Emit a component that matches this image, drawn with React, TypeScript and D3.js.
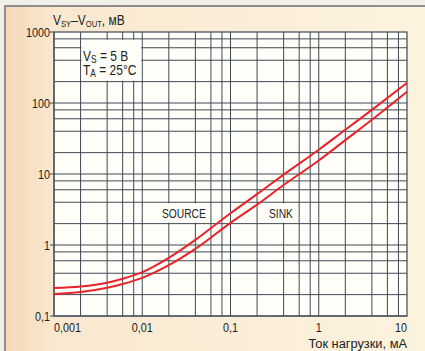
import { useEffect } from 'react'
import type { ReactNode } from 'react'
import * as d3 from 'd3'

// load current, mA
const loadCurrent = [0.001, 0.002, 0.004, 0.006, 0.01, 0.02, 0.04, 0.1, 0.2, 0.4, 1, 2, 4, 10]
// V_SY - V_OUT, mV
const sourceValues = [0.248, 0.26, 0.294, 0.335, 0.415, 0.66, 1.18, 2.8, 5.2, 9.8, 22, 42, 80, 192]
const sinkValues = [0.204, 0.217, 0.25, 0.283, 0.345, 0.52, 0.88, 2.05, 3.7, 7.0, 15.5, 30, 58, 144]

const xTickValues = [0.001, 0.01, 0.1, 1, 10]
const xTickLabels = ['0,001', '0,01', '0,1', '1', '10']
const yTickValues = [0.1, 1, 10, 100, 1000]
const yTickLabels = ['0,1', '1', '10', '100', '1000']
const gridMultipliers = [1, 2, 4, 6, 8]

const W = 425
const H = 351
const margin = { top: 32, right: 18, bottom: 35, left: 54 }
const FONT = '"Liberation Sans", Arial, sans-serif'
const GRID = '#3f4a55'
const INK = '#222'

// condensed text: the original uses a narrow grotesque
function NText({
  x,
  y,
  sx = 0.8,
  size = 13,
  anchor = 'start',
  children,
}: {
  x: number
  y: number
  sx?: number
  size?: number
  anchor?: 'start' | 'middle' | 'end'
  children: ReactNode
}) {
  return (
    <g transform={`translate(${x},${y}) scale(${sx},1)`}>
      <text x={0} y={0} textAnchor={anchor} fontSize={size} fill={INK}>
        {children}
      </text>
    </g>
  )
}

export default function App() {
  useEffect(() => {
    document.body.style.margin = '0'
  }, [])

  const x = d3.scaleLog().domain([0.001, 10]).range([margin.left, W - margin.right])
  const y = d3.scaleLog().domain([0.1, 1000]).range([H - margin.bottom, margin.top])

  const gridX: number[] = []
  for (let d = 0.001; d < 10; d *= 10) gridMultipliers.forEach(m => gridX.push(+(d * m).toPrecision(3)))
  const gridY: number[] = []
  for (let d = 0.1; d < 1000; d *= 10) gridMultipliers.forEach(m => gridY.push(+(d * m).toPrecision(3)))

  const line = d3
    .line<number>()
    .x((_, i) => x(loadCurrent[i]))
    .y(d => y(d))
    .curve(d3.curveMonotoneX)

  const [x0, x1] = x.range()
  const [y1, y0] = y.range()

  return (
    <svg width={W} height={H} style={{ display: 'block' }} fontFamily={FONT}>
      <defs>
        <linearGradient id="bg" x1="0" x2="1" y1="0" y2="0">
          <stop offset="0" stopColor="#f6d8b8" />
          <stop offset="0.12" stopColor="#f9e8d0" />
          <stop offset="1" stopColor="#fcf3df" />
        </linearGradient>
      </defs>
      <rect width={W} height={H} fill="#f1efea" />
      <rect x={5} y={6} width={W} height={H} fill="url(#bg)" stroke="#8d8d8d" strokeWidth={2} />

      {/* plot background */}
      <rect x={x0} y={y0} width={x1 - x0} height={y1 - y0} fill="#fffef8" />

      {/* grid */}
      {gridX.map(v => (
        <line key={'gx' + v} x1={x(v)} x2={x(v)} y1={y0} y2={y1} stroke={GRID} strokeWidth={1} />
      ))}
      {gridY.map(v => (
        <line key={'gy' + v} x1={x0} x2={x1} y1={y(v)} y2={y(v)} stroke={GRID} strokeWidth={1} />
      ))}
      <rect x={x0} y={y0} width={x1 - x0} height={y1 - y0} fill="none" stroke={GRID} strokeWidth={1.2} />

      {/* label boxes */}
      <rect x={x(0.002) + 1} y={y(800) + 1} width={x(0.01) - x(0.002) - 2} height={y(200) - y(800) - 2} fill="#fffef8" />
      <rect x={157} y={y(4) + 1} width={51} height={y(2) - y(4) - 2} fill="#fffef8" />
      <rect x={264} y={y(4) + 1} width={33} height={y(2) - y(4) - 2} fill="#fffef8" />

      {/* curves */}
      <path d={line(sourceValues) ?? ''} fill="none" stroke="#e8232b" strokeWidth={2} />
      <path d={line(sinkValues) ?? ''} fill="none" stroke="#e8232b" strokeWidth={2} />

      {/* y axis */}
      {yTickValues.map((v, i) => (
        <g key={'yt' + v}>
          <line x1={x0 - 4} x2={x0} y1={y(v)} y2={y(v)} stroke={GRID} />
          <NText x={x0 - 4} y={y(v) + 4.5} anchor="end" sx={0.83} size={13}>
            {yTickLabels[i]}
          </NText>
        </g>
      ))}
      {/* x axis */}
      {xTickValues.map((v, i) => (
        <NText
          key={'xt' + v}
          x={x(v)}
          y={y1 + 16}
          sx={0.83}
          size={13}
          anchor={i === 0 ? 'start' : i === xTickValues.length - 1 ? 'end' : 'middle'}
        >
          {xTickLabels[i]}
        </NText>
      ))}

      {/* titles */}
      <NText x={x0 - 1} y={25} sx={0.85} size={14}>
        V<tspan fontSize={9} dy={2}>SY</tspan>
        <tspan dy={-2}>–V</tspan>
        <tspan fontSize={9} dy={2}>OUT</tspan>
        <tspan dy={-2}>, мВ</tspan>
      </NText>
      <NText x={x1} y={348} anchor="end" sx={0.95} size={13.5}>
        Ток нагрузки, мА
      </NText>

      <NText x={83} y={61} sx={0.8} size={15}>
        V<tspan fontSize={10.5} dy={2}>S</tspan>
        <tspan dy={-2}> = 5 В</tspan>
      </NText>
      <NText x={83} y={74.5} sx={0.8} size={15}>
        T<tspan fontSize={10.5} dy={2}>A</tspan>
        <tspan dy={-2}> = 25°C</tspan>
      </NText>
      <NText x={162} y={218} sx={0.76} size={13.5}>
        SOURCE
      </NText>
      <NText x={269} y={218} sx={0.76} size={13.5}>
        SINK
      </NText>
    </svg>
  )
}
